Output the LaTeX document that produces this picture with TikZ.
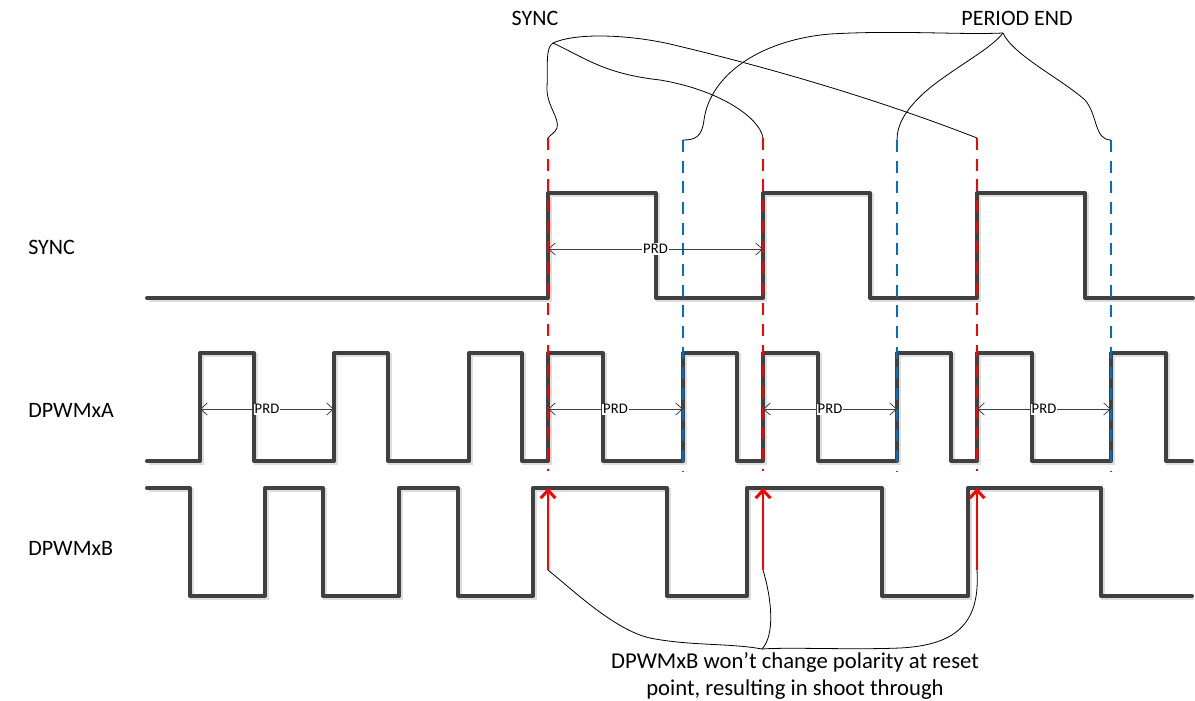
\documentclass[tikz,border=0pt]{standalone}
\usepackage{fontspec}
\setmainfont{Carlito}
\usetikzlibrary{arrows.meta}
\definecolor{wavec}{HTML}{404040}
\definecolor{myred}{HTML}{FF0000}
\definecolor{myblue}{HTML}{0070C0}
\begin{document}
\begin{tikzpicture}[x=0.75pt,y=-0.75pt,
  wave/.style={line width=3pt, draw=wavec, line join=round, line cap=round,
    preaction={draw=black!13, line width=3pt, transform canvas={shift={(2,2)}}}},
  reddash/.style={draw=myred, line width=1.1pt, dash pattern=on 9pt off 6.5pt},
  bluedash/.style={draw=myblue, line width=1.1pt, dash pattern=on 9pt off 6.5pt},
  prd/.style={draw=wavec, line width=0.6pt, {Straight Barb[length=5pt,width=9pt]}-{Straight Barb[length=5pt,width=9pt]}},
  prdlabel/.style={fill=white, inner sep=0.6pt, font=\fontsize{11}{12}\selectfont},
  lbl/.style={font=\fontsize{16.5}{19}\selectfont, inner sep=0pt},
  brace/.style={draw=black, line width=0.6pt},
  reset/.style={draw=myred, line width=2.2pt, -{Straight Barb[length=6pt,width=11pt]}}]

\useasboundingbox (0,0) rectangle (1195,700);

% waveforms
\draw[wave] (147,298) -- (548,298) -- (548,193) -- (656,193) -- (656,298) -- (763,298) -- (763,193) -- (870,193) -- (870,298) -- (977,298) -- (977,193) -- (1085,193) -- (1085,298) -- (1193,298);

\draw[wave] (147,461) -- (200,461) -- (200,353) -- (254,353) -- (254,461) -- (334,461) -- (334,353) -- (388,353) -- (388,461) -- (469,461) -- (469,353) -- (522,353) -- (522,461) -- (548,461) -- (548,353) -- (603,353) -- (603,461) -- (683,461) -- (683,353) -- (737,353) -- (737,461) -- (763,461) -- (763,353) -- (818,353) -- (818,461) -- (897,461) -- (897,353) -- (951,353) -- (951,461) -- (977,461) -- (977,353) -- (1032,353) -- (1032,461) -- (1111,461) -- (1111,353) -- (1166,353) -- (1166,461) -- (1192,461);

\draw[wave] (147,488) -- (190,488) -- (190,596) -- (265,596) -- (265,488) -- (323,488) -- (323,596) -- (399,596) -- (399,488) -- (458,488) -- (458,596) -- (533,596) -- (533,488) -- (667,488) -- (667,596) -- (747,596) -- (747,488) -- (882,488) -- (882,596) -- (968,596) -- (968,488) -- (1101,488) -- (1101,596) -- (1192,596);

% dashed marker lines
\coordinate (r1) at (548,138); \coordinate (r1b) at (548,471);
\coordinate (r2) at (763,138); \coordinate (r2b) at (763,471);
\coordinate (r3) at (977,138); \coordinate (r3b) at (977,471);
\coordinate (b1) at (683,140); \coordinate (b1b) at (683,471);
\coordinate (b2) at (897,140); \coordinate (b2b) at (897,471);
\coordinate (b3) at (1111,140); \coordinate (b3b) at (1111,471);
\draw[reddash] (r1) -- (r1b);
\draw[reddash] (r2) -- (r2b);
\draw[reddash] (r3) -- (r3b);
\draw[bluedash] (b1) -- (b1b);
\draw[bluedash] (b2) -- (b2b);
\draw[bluedash] (b3) -- (b3b);

% PRD dimension arrows
\coordinate (s1) at (548,249); \coordinate (s2) at (763,249);
\draw[prd] (s1) -- node[prdlabel] {PRD} (s2);
\coordinate (p1) at (200,409); \coordinate (p2) at (334,409);
\draw[prd] (p1) -- node[prdlabel] {PRD} (p2);
\coordinate (p3) at (548,409); \coordinate (p4) at (683,409);
\draw[prd] (p3) -- node[prdlabel] {PRD} (p4);
\coordinate (p5) at (763,409); \coordinate (p6) at (897,409);
\draw[prd] (p5) -- node[prdlabel] {PRD} (p6);
\coordinate (p7) at (977,409); \coordinate (p8) at (1111,409);
\draw[prd] (p7) -- node[prdlabel] {PRD} (p8);

% reset arrows
\coordinate (a1) at (548,570); \coordinate (a1t) at (548,488);
\coordinate (a2) at (763,570); \coordinate (a2t) at (763,488);
\coordinate (a3) at (977,570); \coordinate (a3t) at (977,488);
\draw[reset] (a1) -- (a1t);
\draw[reset] (a2) -- (a2t);
\draw[reset] (a3) -- (a3t);

% labels
\node[lbl, anchor=west] (lsync) at (28,247) {SYNC};
\node[lbl, anchor=west] (lpwma) at (28,410) {DPWMxA};
\node[lbl, anchor=west] (lpwmb) at (28,548) {DPWMxB};
\node[lbl] (tsync) at (535,18) {SYNC};
\node[lbl] (tpend) at (1017,18) {PERIOD END};
\node[lbl, align=center, font=\fontsize{17}{20.3}\selectfont] (note) at (795,676) {DPWMxB won’t change polarity at reset\\point, resulting in shoot through};

% SYNC brace
\coordinate (P) at (553,43);
\draw[brace] (P) .. controls (545,47) and (548,70) .. (547,87) .. controls (546,105) and (560,118) .. (557,128) .. controls (555,133) and (550,135) .. (r1);
\draw[brace] (P) .. controls (585,58) and (605,74) .. (660,80) .. controls (720,90) and (760,118) .. (r2);
\draw[brace] (P) .. controls (575,33) and (625,34) .. (670,44) .. controls (800,75) and (900,108) .. (r3);

% PERIOD END brace
\coordinate (Q) at (1003,33);
\draw[brace] (Q) .. controls (960,35) and (900,30) .. (830,34) .. controls (760,40) and (710,75) .. (704,120) .. controls (702,137) and (695,140) .. (b1);
\draw[brace] (Q) .. controls (990,50) and (950,70) .. (925,92) .. controls (905,110) and (897,125) .. (b2);
\draw[brace] (Q) .. controls (1013,55) and (1060,78) .. (1085,100) .. controls (1098,115) and (1094,140) .. (b3);

% bottom brace
\coordinate (R) at (762,649);
\draw[brace] (a1) .. controls (575,592) and (615,630) .. (650,638) .. controls (690,646) and (730,643) .. (R);
\draw[brace] (a2) .. controls (772,600) and (775,635) .. (R);
\draw[brace] (a3) .. controls (980,620) and (960,645) .. (900,648) .. controls (850,650) and (790,647) .. (R);
\end{tikzpicture}
\end{document}
